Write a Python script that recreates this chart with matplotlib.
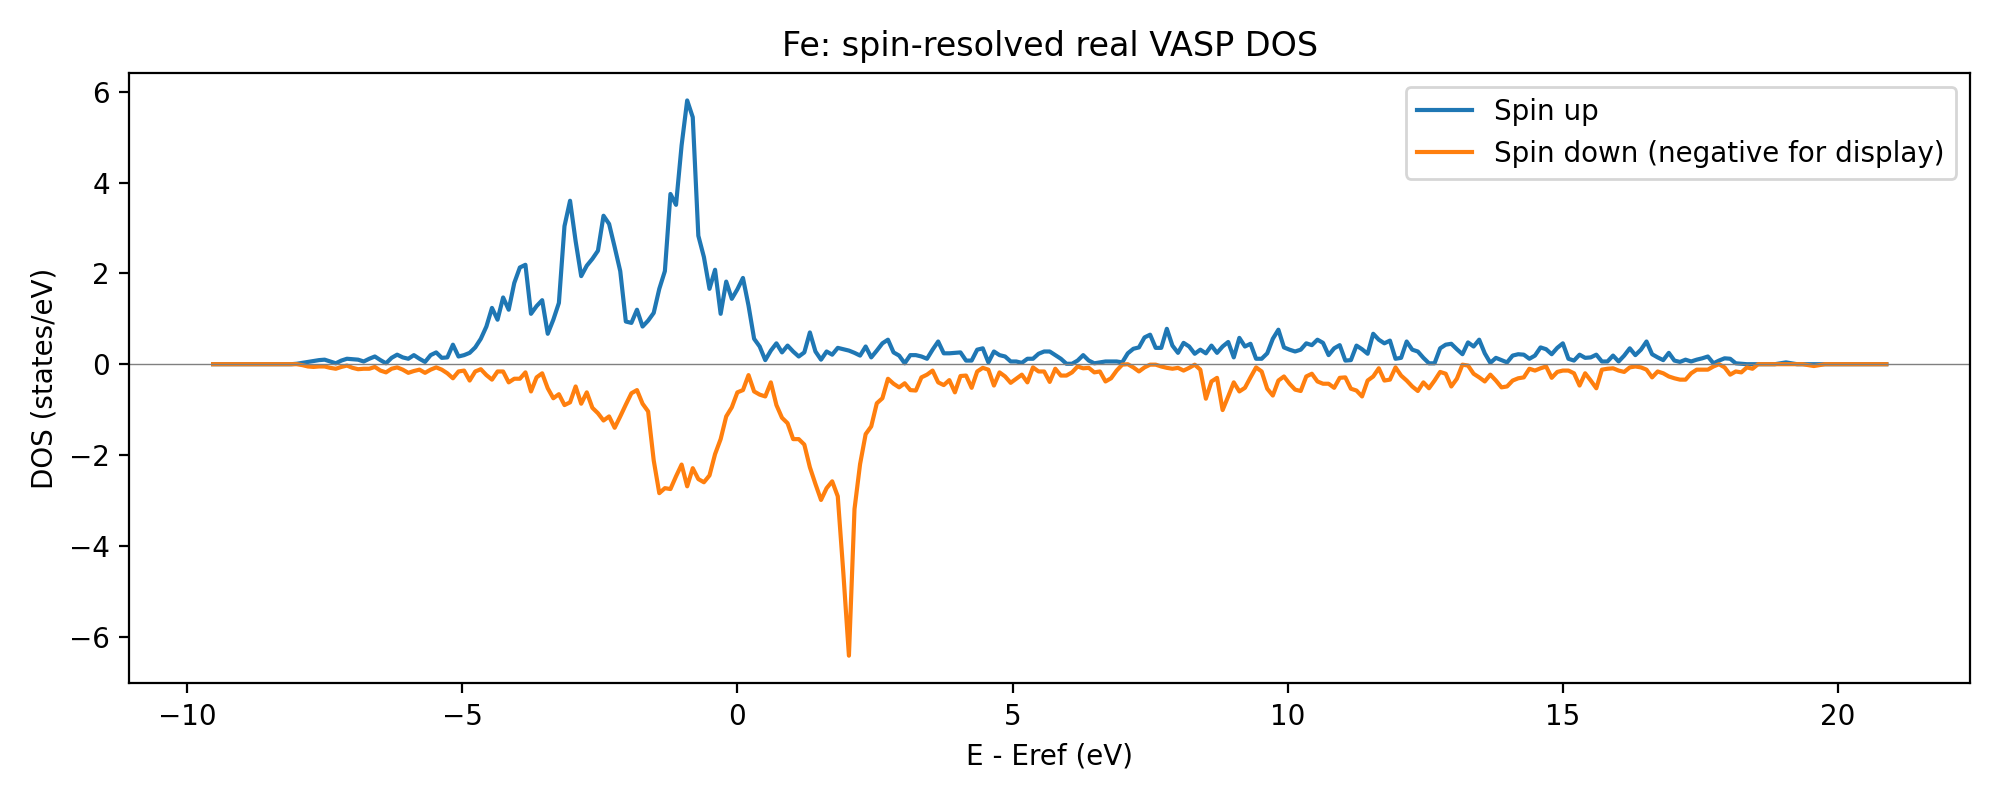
import numpy as np
import matplotlib
matplotlib.use("Agg")
import matplotlib.pyplot as plt

# energy grid (eV, relative to Eref), 301 points
energy = np.linspace(-9.53, 20.88, 301)

# spin up DOS (states/eV)
dos_up = [
    0, 0, 0, 0, 0, 0, 0, 0, 0, 0,
    0, 0, 0, 0, 0, 0.01, 0.03, 0.05, 0.07, 0.09,
    0.10, 0.06, 0.02, 0.08, 0.12, 0.11, 0.10, 0.06, 0.12, 0.17,
    0.09, 0.02, 0.14, 0.21, 0.15, 0.12, 0.20, 0.12, 0.05, 0.20,
    0.26, 0.14, 0.15, 0.43, 0.17, 0.20, 0.25, 0.37, 0.56, 0.83,
    1.24, 0.98, 1.47, 1.20, 1.79, 2.13, 2.19, 1.11, 1.28, 1.41,
    0.67, 0.98, 1.35, 3.04, 3.60, 2.71, 1.94, 2.17, 2.32, 2.50,
    3.27, 3.09, 2.58, 2.05, 0.94, 0.91, 1.20, 0.83, 0.96, 1.13,
    1.66, 2.05, 3.75, 3.51, 4.82, 5.81, 5.44, 2.83, 2.36, 1.66,
    2.08, 1.11, 1.82, 1.44, 1.65, 1.90, 1.29, 0.56, 0.39, 0.09,
    0.30, 0.46, 0.26, 0.41, 0.28, 0.17, 0.26, 0.70, 0.28, 0.10,
    0.28, 0.21, 0.36, 0.33, 0.30, 0.25, 0.19, 0.39, 0.15, 0.30,
    0.46, 0.54, 0.26, 0.19, 0.02, 0.20, 0.20, 0.17, 0.12, 0.32,
    0.50, 0.24, 0.24, 0.25, 0.26, 0.08, 0.08, 0.32, 0.35, 0.04,
    0.28, 0.20, 0.17, 0.06, 0.06, 0.03, 0.12, 0.12, 0.23, 0.28,
    0.28, 0.20, 0.12, 0.01, 0.01, 0.08, 0.20, 0.08, 0.02, 0.04,
    0.06, 0.06, 0.06, 0.04, 0.24, 0.34, 0.37, 0.59, 0.65, 0.36,
    0.36, 0.78, 0.41, 0.25, 0.47, 0.39, 0.23, 0.32, 0.24, 0.41,
    0.25, 0.39, 0.49, 0.15, 0.58, 0.39, 0.45, 0.12, 0.12, 0.24,
    0.56, 0.76, 0.37, 0.32, 0.28, 0.32, 0.46, 0.42, 0.54, 0.47,
    0.20, 0.35, 0.42, 0.08, 0.09, 0.41, 0.33, 0.23, 0.67, 0.54,
    0.46, 0.52, 0.12, 0.14, 0.50, 0.32, 0.28, 0.14, 0.02, 0.02,
    0.35, 0.43, 0.45, 0.33, 0.22, 0.48, 0.39, 0.54, 0.24, 0.03,
    0.14, 0.09, 0.04, 0.19, 0.22, 0.21, 0.12, 0.19, 0.37, 0.33,
    0.22, 0.36, 0.46, 0.12, 0.08, 0.21, 0.14, 0.15, 0.21, 0.06,
    0.06, 0.19, 0.06, 0.19, 0.35, 0.20, 0.32, 0.50, 0.22, 0.15,
    0.09, 0.25, 0.08, 0.05, 0.10, 0.06, 0.10, 0.13, 0.17, 0.02,
    0.08, 0.13, 0.12, 0.02, 0.01, 0, 0, 0, 0, 0,
    0, 0.02, 0.04, 0.02, 0, 0, 0, 0, 0, 0,
    0, 0, 0, 0, 0, 0, 0, 0, 0, 0,
    0,
]

# spin down DOS (states/eV), stored positive
dos_down = [
    0, 0, 0, 0, 0, 0, 0, 0, 0, 0,
    0, 0, 0, 0, 0, 0, 0.02, 0.05, 0.06, 0.05,
    0.05, 0.08, 0.10, 0.06, 0.03, 0.08, 0.11, 0.10, 0.10, 0.06,
    0.14, 0.18, 0.10, 0.07, 0.12, 0.19, 0.15, 0.12, 0.19, 0.12,
    0.07, 0.12, 0.20, 0.31, 0.16, 0.14, 0.36, 0.16, 0.11, 0.24,
    0.34, 0.16, 0.16, 0.40, 0.32, 0.32, 0.18, 0.60, 0.29, 0.20,
    0.53, 0.75, 0.66, 0.90, 0.84, 0.49, 0.87, 0.62, 0.96, 1.08,
    1.24, 1.15, 1.40, 1.15, 0.89, 0.64, 0.57, 0.87, 1.04, 2.12,
    2.84, 2.73, 2.75, 2.47, 2.21, 2.69, 2.29, 2.53, 2.60, 2.45,
    1.98, 1.65, 1.15, 0.95, 0.62, 0.57, 0.24, 0.60, 0.67, 0.71,
    0.40, 0.90, 1.18, 1.30, 1.65, 1.65, 1.77, 2.27, 2.64, 2.99,
    2.73, 2.58, 2.91, 4.60, 6.42, 3.19, 2.20, 1.54, 1.37, 0.86,
    0.75, 0.32, 0.43, 0.51, 0.42, 0.57, 0.58, 0.29, 0.23, 0.14,
    0.40, 0.46, 0.35, 0.62, 0.26, 0.25, 0.52, 0.16, 0.08, 0.12,
    0.47, 0.18, 0.27, 0.41, 0.32, 0.23, 0.40, 0.07, 0.16, 0.16,
    0.39, 0.10, 0.25, 0.25, 0.18, 0.05, 0.09, 0.08, 0.18, 0.16,
    0.38, 0.31, 0.14, 0.01, 0.00, 0.07, 0.16, 0.07, 0.01, 0.01,
    0.05, 0.08, 0.10, 0.08, 0.14, 0.08, 0.01, 0.12, 0.76, 0.38,
    0.30, 1.01, 0.71, 0.40, 0.60, 0.52, 0.29, 0.07, 0.16, 0.54,
    0.69, 0.36, 0.27, 0.43, 0.56, 0.59, 0.27, 0.21, 0.38, 0.43,
    0.43, 0.52, 0.30, 0.29, 0.54, 0.58, 0.71, 0.36, 0.27, 0.09,
    0.36, 0.34, 0.07, 0.25, 0.36, 0.49, 0.59, 0.40, 0.53, 0.36,
    0.17, 0.21, 0.49, 0.32, 0.01, 0.03, 0.21, 0.29, 0.38, 0.23,
    0.36, 0.51, 0.49, 0.36, 0.31, 0.29, 0.10, 0.14, 0.09, 0.05,
    0.30, 0.17, 0.14, 0.14, 0.20, 0.47, 0.20, 0.36, 0.53, 0.12,
    0.10, 0.09, 0.14, 0.17, 0.07, 0.05, 0.07, 0.12, 0.29, 0.16,
    0.20, 0.27, 0.31, 0.34, 0.34, 0.20, 0.12, 0.12, 0.12, 0.05,
    0.0, 0.07, 0.23, 0.16, 0.18, 0.07, 0.10, 0, 0, 0,
    0, 0, 0, 0, 0, 0, 0.02, 0.04, 0.02, 0,
    0, 0, 0, 0, 0, 0, 0, 0, 0, 0,
    0,
]

fig, ax = plt.subplots(figsize=(10, 4), dpi=200)
ax.plot(energy, dos_up, label="Spin up")
ax.plot(energy, -np.array(dos_down), label="Spin down (negative for display)")
ax.axhline(0, color="gray", linewidth=0.5)

ax.set_xlabel("E - Eref (eV)")
ax.set_ylabel("DOS (states/eV)")
ax.set_title("Fe: spin-resolved real VASP DOS")
ax.legend()
fig.tight_layout()
fig.savefig("out.png", dpi=200)
